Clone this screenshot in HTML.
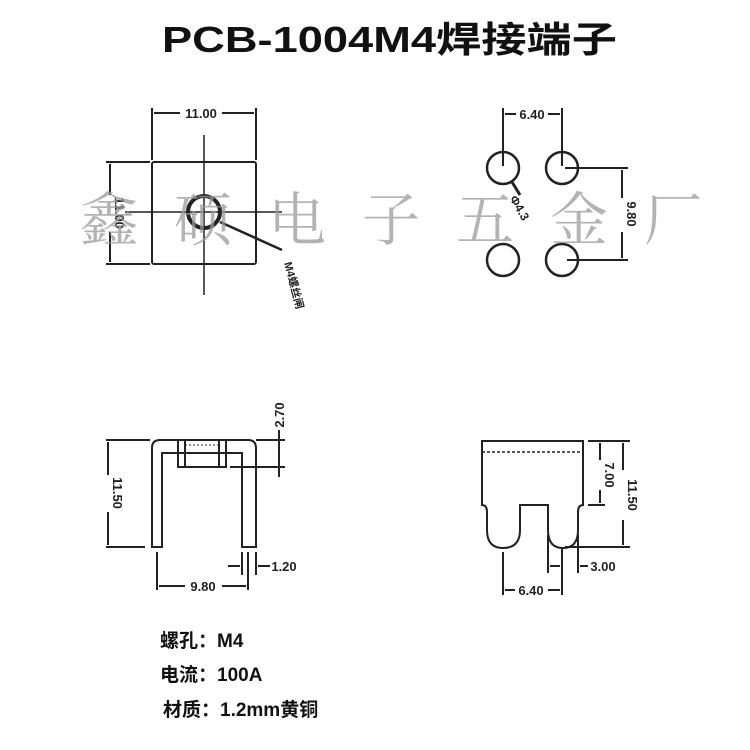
<!DOCTYPE html>
<html><head><meta charset="utf-8"><style>
body{margin:0;background:#fff;width:750px;height:750px;overflow:hidden}
svg{display:block}
</style></head><body>
<svg width="750" height="750" viewBox="0 0 750 750" xmlns="http://www.w3.org/2000/svg" font-family="Liberation Sans, Noto Sans CJK SC, sans-serif">
<text x="162" y="52" font-size="36" font-weight="bold" fill="#111" textLength="455" lengthAdjust="spacingAndGlyphs">PCB-1004M4焊接端子</text>
<g stroke="#222" fill="none" stroke-width="2">
<rect x="152" y="162" width="104" height="102" rx="2"/>
<line x1="152" y1="108" x2="152" y2="160"/><line x1="256" y1="108" x2="256" y2="160"/>
<line x1="154" y1="113" x2="180" y2="113"/><line x1="222" y1="113" x2="254" y2="113"/>
<line x1="106" y1="162" x2="150" y2="162"/><line x1="106" y1="264" x2="150" y2="264"/>
<line x1="110" y1="164" x2="110" y2="195"/><line x1="110" y1="232" x2="110" y2="262"/>
<line x1="204" y1="135" x2="204" y2="295" stroke-width="1.5"/>
<line x1="125" y1="212" x2="282" y2="212" stroke-width="1.5"/>
<circle cx="204" cy="212" r="16" stroke-width="4"/>
<line x1="220" y1="222" x2="282" y2="250" stroke-width="2.5"/>
<circle cx="503" cy="168" r="16" stroke-width="2.5"/><circle cx="562" cy="168" r="16" stroke-width="2.5"/>
<circle cx="503" cy="260" r="16" stroke-width="2.5"/><circle cx="562" cy="260" r="16" stroke-width="2.5"/>
<line x1="503" y1="108" x2="503" y2="166"/><line x1="562" y1="108" x2="562" y2="166"/>
<line x1="505" y1="114" x2="516" y2="114"/><line x1="548" y1="114" x2="560" y2="114"/>
<line x1="565" y1="168" x2="628" y2="168"/><line x1="567" y1="260" x2="628" y2="260"/>
<line x1="622" y1="170" x2="622" y2="198"/><line x1="622" y1="232" x2="622" y2="258"/>
<line x1="512" y1="182" x2="520" y2="195" stroke-width="3"/>
<path d="M152,547 V448 Q152,440 160,440 H248 Q256,440 256,448 V547 H242 V453 H162 V547 Z"/>
<rect x="178" y="440" width="48" height="27"/>
<line x1="185" y1="440" x2="185" y2="467"/><line x1="219" y1="440" x2="219" y2="467"/>
<line x1="185" y1="445" x2="219" y2="445" stroke-dasharray="2,2" stroke-width="1"/>
<line x1="106" y1="440" x2="150" y2="440"/><line x1="106" y1="547" x2="145" y2="547"/>
<line x1="108" y1="442" x2="108" y2="475"/><line x1="108" y1="512" x2="108" y2="545"/>
<line x1="256" y1="440" x2="285" y2="440"/><line x1="230" y1="467" x2="285" y2="467"/>
<line x1="279" y1="430" x2="279" y2="477"/>
<line x1="157" y1="552" x2="157" y2="590"/><line x1="248" y1="552" x2="248" y2="590"/>
<line x1="159" y1="586" x2="185" y2="586"/><line x1="222" y1="586" x2="246" y2="586"/>
<line x1="242" y1="552" x2="242" y2="575"/><line x1="256" y1="552" x2="256" y2="575"/>
<line x1="228" y1="566" x2="240" y2="566"/><line x1="258" y1="566" x2="270" y2="566"/>
<path d="M482,441 H583 V505 Q578,505 578,512 V530 Q578,548 563,548 Q548,548 548,530 V505 H520 V530 Q520,548 503,548 Q487,548 487,530 V512 Q487,505 482,505 Z"/>
<line x1="482" y1="452" x2="583" y2="452" stroke-dasharray="3,2" stroke-width="1.5"/>
<line x1="588" y1="441" x2="630" y2="441"/><line x1="588" y1="505" x2="605" y2="505"/>
<line x1="565" y1="547" x2="630" y2="547"/>
<line x1="600" y1="443" x2="600" y2="460"/><line x1="600" y1="490" x2="600" y2="503"/>
<line x1="623" y1="443" x2="623" y2="470"/><line x1="623" y1="520" x2="623" y2="545"/>
<line x1="548" y1="535" x2="548" y2="573"/><line x1="562" y1="548" x2="562" y2="595"/><line x1="578" y1="535" x2="578" y2="573"/>
<line x1="503" y1="552" x2="503" y2="595"/>
<line x1="505" y1="590" x2="515" y2="590"/><line x1="548" y1="590" x2="560" y2="590"/>
<line x1="550" y1="566" x2="560" y2="566"/><line x1="580" y1="566" x2="588" y2="566"/>
</g>
<g font-size="13" fill="#222" font-weight="bold">
<text x="201" y="118" text-anchor="middle">11.00</text>
<text x="532" y="119" text-anchor="middle">6.40</text>
<text transform="translate(115,213) rotate(90)" text-anchor="middle">11.00</text>
<text transform="translate(627,214) rotate(90)" text-anchor="middle">9.80</text>
<text transform="translate(284,263) rotate(75)" font-size="11">M4螺丝闸</text>
<text transform="translate(516,210) rotate(60)" text-anchor="middle" font-size="12">Φ4.3</text>
<text transform="translate(113,493) rotate(90)" text-anchor="middle">11.50</text>
<text transform="translate(284,415) rotate(-90)" text-anchor="middle">2.70</text>
<text x="203" y="591" text-anchor="middle">9.80</text>
<text x="284" y="571" text-anchor="middle">1.20</text>
<text transform="translate(605,475) rotate(90)" text-anchor="middle">7.00</text>
<text transform="translate(628,495) rotate(90)" text-anchor="middle">11.50</text>
<text x="603" y="571" text-anchor="middle">3.00</text>
<text x="531" y="595" text-anchor="middle">6.40</text>
</g>
<text x="80" y="240" font-size="58" fill="#999" fill-opacity="0.75" font-family="Noto Serif CJK SC, serif" letter-spacing="36">鑫硕电子五金厂</text>
<g font-size="19" font-weight="bold" fill="#111">
<text x="160" y="647">螺孔：M4</text>
<text x="160" y="681">电流：100A</text>
<text x="163" y="716">材质：1.2mm黄铜</text>
</g>
</svg>
</body></html>
